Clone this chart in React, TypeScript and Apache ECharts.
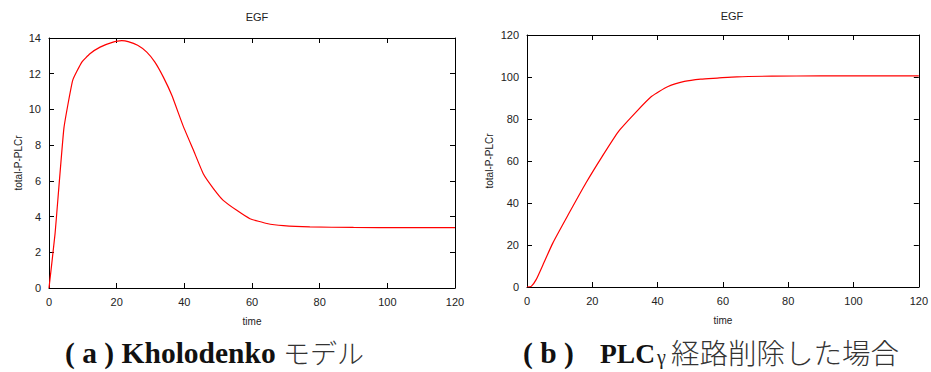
import React, { useEffect, useRef } from "react";
import * as echarts from "echarts";

// Kholodenko model: total phosphorylated PLCγ over time (EGF stimulus)
const timeA = [0, 1.8, 4.4, 7.0, 9.7, 12.1, 15.1, 18.5, 21.5, 23.4, 26.2, 28.9, 31.3, 33.8, 36.3, 39.7, 42.7, 45.6, 48.6, 51.5, 55.5, 59.4, 64.4, 69.3, 77.1, 90, 105, 120];
const valueA = [0, 3.06, 8.94, 11.63, 12.65, 13.12, 13.49, 13.74, 13.85, 13.8, 13.59, 13.21, 12.65, 11.81, 10.79, 9.05, 7.71, 6.4, 5.57, 4.91, 4.35, 3.88, 3.61, 3.49, 3.42, 3.39, 3.38, 3.38];

// PLCγ pathway removed
const timeB = [0, 1.3, 2.8, 4.9, 7.9, 12.9, 18.0, 23.0, 28.0, 33.1, 38.1, 43.2, 48.2, 53.2, 58.3, 64.3, 75, 90, 105, 120];
const valueB = [0, 0.3, 3.5, 10.6, 20.9, 35.2, 49.4, 62.1, 74.0, 82.8, 90.7, 95.5, 97.9, 99.0, 99.5, 100.1, 100.4, 100.5, 100.5, 100.5];

const xTicks = { min: 0, max: 120, interval: 20 };
const yTicksA = { min: 0, max: 14, interval: 2 };
const yTicksB = { min: 0, max: 120, interval: 20 };

const chartTitle = "EGF";
const xName = "time";
const yName = "total-P-PLCr";

const SANS = "'Liberation Sans', Arial, sans-serif";
const SERIF = "'Liberation Serif', 'Times New Roman', serif";
const CJK = "'Noto Sans CJK JP', sans-serif";
const TEXT = "#222";

const zip = (t: number[], v: number[]) => t.map((x, i) => [x, v[i]]);

const axisLine = { show: true, onZero: false, lineStyle: { color: "#000", width: 1 } };
const tick = { show: true, inside: true, length: 5, lineStyle: { color: "#000", width: 1 } };
const label = { color: TEXT, fontFamily: SANS, fontSize: 11 };

function xAxes(grid: number) {
  return [
    {
      type: "value", gridIndex: grid, position: "bottom", ...xTicks,
      name: xName, nameLocation: "middle", nameGap: 28,
      nameTextStyle: { color: TEXT, fontFamily: SANS, fontSize: 10 },
      axisLine, axisTick: tick, axisLabel: { ...label, margin: 8 }, splitLine: { show: false },
    },
    {
      type: "value", gridIndex: grid, position: "top", ...xTicks,
      axisLine, axisTick: tick, axisLabel: { show: false }, splitLine: { show: false },
    },
  ];
}

function yAxes(grid: number, ticks: any, nameGap: number) {
  return [
    {
      type: "value", gridIndex: grid, position: "left", ...ticks,
      name: yName, nameLocation: "middle", nameGap,
      nameTextStyle: { color: TEXT, fontFamily: SANS, fontSize: 10 },
      axisLine, axisTick: tick, axisLabel: { ...label, margin: 8 }, splitLine: { show: false },
    },
    {
      type: "value", gridIndex: grid, position: "right", ...ticks,
      axisLine, axisTick: tick, axisLabel: { show: false }, splitLine: { show: false },
    },
  ];
}

export default function App() {
  const ref = useRef<HTMLDivElement>(null);

  useEffect(() => {
    if (!ref.current) return;
    const chart = echarts.init(ref.current, null, { renderer: "svg" });
    const captionBold = { fontFamily: SERIF, fontWeight: "bold", fontSize: 29.5, fill: "#111" };
    const captionJp = { fontFamily: CJK, fontWeight: 300, fontSize: 27, fill: "#333" };
    const titleStyle = { color: TEXT, fontFamily: SANS, fontSize: 11, fontWeight: "normal" };
    chart.setOption({
      animation: false,
      backgroundColor: "#fff",
      title: [
        { text: chartTitle, left: 252, top: 6, textAlign: "center", textStyle: titleStyle },
        { text: chartTitle, left: 727, top: 5, textAlign: "center", textStyle: titleStyle },
      ],
      grid: [
        { left: 49, top: 38, width: 406, height: 250 },
        { left: 527, top: 35, width: 397, height: 252 },
      ],
      xAxis: [...xAxes(0), ...xAxes(1)],
      yAxis: [...yAxes(0, yTicksA, 26), ...yAxes(1, yTicksB, 33)],
      series: [
        {
          type: "line", xAxisIndex: 0, yAxisIndex: 0, data: zip(timeA, valueA),
          showSymbol: false, smooth: 0.12,
          lineStyle: { color: "#ff0000", width: 1.2 }, clip: true,
        },
        {
          type: "line", xAxisIndex: 2, yAxisIndex: 2, data: zip(timeB, valueB),
          showSymbol: false, smooth: 0.2,
          lineStyle: { color: "#ff0000", width: 1.2 }, clip: true,
        },
      ],
      graphic: [
        { type: "text", x: 65, y: 353, style: { text: "( a ) Kholodenko", ...captionBold, textVerticalAlign: "middle" } },
        { type: "text", x: 283, y: 352, style: { text: "モデル", ...captionJp, textVerticalAlign: "middle" } },
        { type: "text", x: 523, y: 353, style: { text: "( b )", ...captionBold, textVerticalAlign: "middle" } },
        { type: "text", x: 600, y: 353, style: { text: "PLC", ...captionBold, fontSize: 27.5, textVerticalAlign: "middle" } },
        { type: "text", x: 657, y: 357, style: { text: "γ", fontFamily: SERIF, fontSize: 20, fill: "#222", textVerticalAlign: "middle" } },
        { type: "text", x: 671, y: 351, style: { text: "経路削除した場合", ...captionJp, fontSize: 28.5, textVerticalAlign: "middle" } },
      ],
    });
    return () => chart.dispose();
  }, []);

  return (
    <div
      ref={ref}
      style={{ position: "fixed", left: 0, top: 0, width: 931, height: 372, background: "#fff" }}
    />
  );
}
